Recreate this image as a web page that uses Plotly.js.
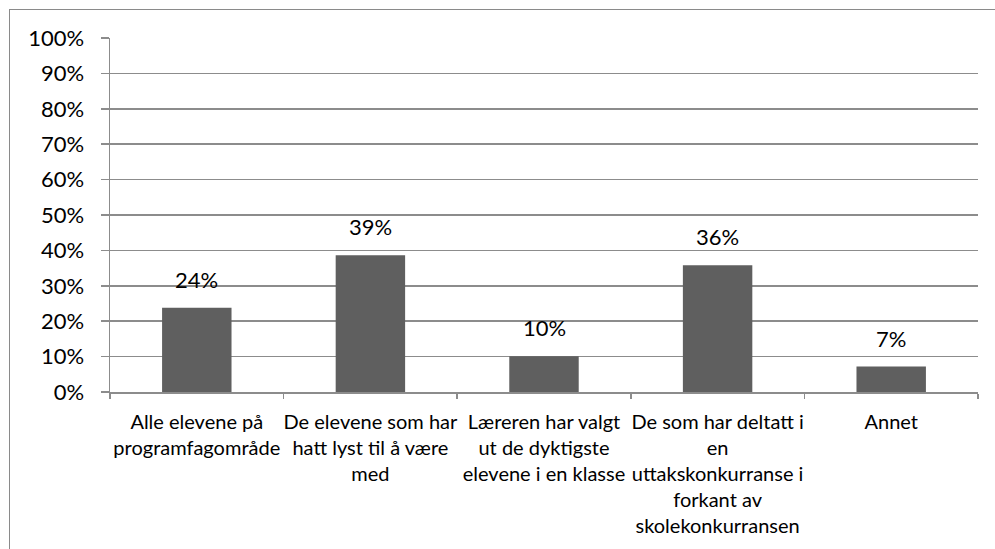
<!DOCTYPE html>
<html>
<head>
<meta charset="utf-8">
<script src="https://cdn.plot.ly/plotly-3.0.1.min.js"></script>
<style>
  html, body { margin: 0; padding: 0; background: #fff; overflow: hidden; }
  #wrap { position: relative; width: 995px; height: 549px; }
  #chart { width: 995px; height: 549px; }
  #frame { position: absolute; left: 9px; top: 9px; width: 1200px; height: 1200px;
           border: 1px solid #8a8a8a; pointer-events: none; }
</style>
</head>
<body>
<div id="wrap">
  <div id="chart"></div>
  <div id="frame"></div>
</div>
<script>
// Data
const categories = [
  "Alle elevene på<br>programfagområde",
  "De elevene som har<br>hatt lyst til å være<br>med",
  "Læreren har valgt<br>ut de dyktigste<br>elevene i en klasse",
  "De som har deltatt i<br>en<br>uttakskonkurranse i<br>forkant av<br>skolekonkurransen",
  "Annet"
];
const shares = [0.238, 0.386, 0.101, 0.358, 0.072];
const shareLabels = ["24%", "39%", "10%", "36%", "7%"];
const yTickValues = [0, 0.1, 0.2, 0.3, 0.4, 0.5, 0.6, 0.7, 0.8, 0.9, 1.0];

const FONT = "Lato, 'Open Sans', sans-serif";
const GRID = "#8c8c8c";

const trace = {
  type: "bar",
  x: categories,
  y: shares,
  marker: { color: "#5f5f5f" },
  width: 0.4,
  hoverinfo: "skip"
};

const annotations = categories.map((c, i) => ({
  x: c, y: shares[i], xref: "x", yref: "y",
  text: shareLabels[i], showarrow: false,
  yanchor: "bottom", yshift: 13,
  font: { family: FONT, size: 22, color: "#000" }
}));

const layout = {
  width: 995, height: 549,
  margin: { l: 110, r: 17, t: 38, b: 157, pad: 0 },
  paper_bgcolor: "#fff", plot_bgcolor: "#fff",
  showlegend: false,
  font: { family: FONT, size: 20, color: "#000" },
  xaxis: {
    type: "category",
    tickson: "boundaries",
    ticks: "outside", ticklen: 5, tickcolor: GRID, tickwidth: 1.5,
    showline: true, linecolor: GRID, linewidth: 1.5,
    showgrid: false,
    tickangle: 0,
    tickfont: { family: FONT, size: 20, color: "#000" },
    ticklabelstandoff: 11,
    fixedrange: true
  },
  yaxis: {
    range: [0, 1],
    tickvals: yTickValues,
    tickformat: ".0%",
    ticks: "outside", ticklen: 8, tickcolor: GRID, tickwidth: 1.5,
    showline: true, linecolor: GRID, linewidth: 1.5,
    showgrid: true, gridcolor: GRID, gridwidth: 1.5,
    zeroline: false,
    tickfont: { family: FONT, size: 22, color: "#000" },
    ticklabelstandoff: 12,
    fixedrange: true
  },
  annotations: annotations
};

Plotly.newPlot("chart", [trace], layout, { displayModeBar: false, staticPlot: true });
</script>
</body>
</html>
